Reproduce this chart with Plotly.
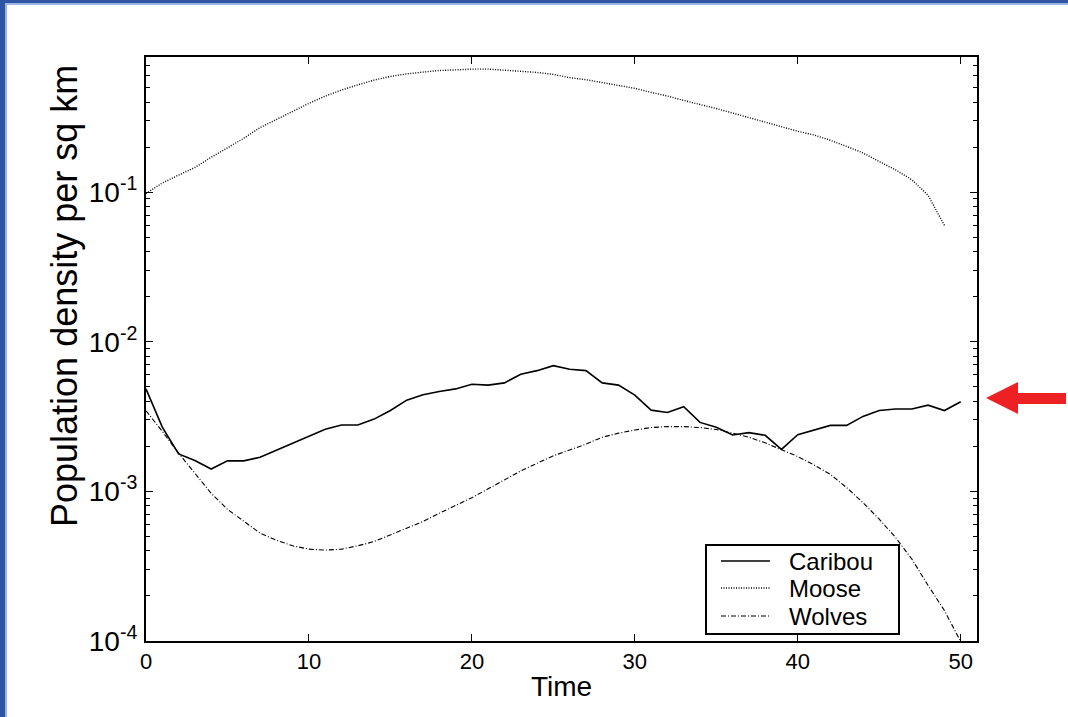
import plotly.graph_objects as go
import math

# ---- data ----
series_names = ["Caribou", "Moose", "Wolves"]

time_caribou = list(range(0, 51))
caribou = [0.00484, 0.00269, 0.00178, 0.00161, 0.00141, 0.00160, 0.00160, 0.00169, 0.00188, 0.00209,
           0.00232, 0.00260, 0.00278, 0.00278, 0.00304, 0.00347, 0.00407, 0.00442, 0.00465, 0.00484,
           0.00520, 0.00513, 0.00531, 0.00607, 0.00641, 0.00692, 0.00655, 0.00641, 0.00531, 0.00513,
           0.00440, 0.00349, 0.00337, 0.00368, 0.00289, 0.00268, 0.00238, 0.00247, 0.00237, 0.00191,
           0.00239, 0.00257, 0.00276, 0.00276, 0.00317, 0.00347, 0.00355, 0.00355, 0.00377, 0.00347,
           0.00397]

time_moose = list(range(0, 50))
moose = [0.098, 0.115, 0.130, 0.146, 0.171, 0.197, 0.229, 0.270, 0.307, 0.348,
         0.392, 0.438, 0.481, 0.521, 0.561, 0.593, 0.617, 0.634, 0.650, 0.656,
         0.664, 0.664, 0.653, 0.644, 0.631, 0.612, 0.582, 0.564, 0.541, 0.517,
         0.494, 0.464, 0.439, 0.410, 0.386, 0.362, 0.338, 0.315, 0.294, 0.275,
         0.255, 0.241, 0.222, 0.202, 0.183, 0.160, 0.141, 0.121, 0.0951, 0.060]

time_wolves = list(range(0, 51))
wolves = [0.00346, 0.00252, 0.00180, 0.00133, 0.000970, 0.000759, 0.000628, 0.000526, 0.000472, 0.000433,
          0.000411, 0.000405, 0.000411, 0.000433, 0.000462, 0.000513, 0.000565, 0.000629, 0.000714, 0.000807,
          0.000908, 0.00104, 0.00120, 0.00137, 0.00154, 0.00173, 0.00189, 0.00207, 0.00230, 0.00245,
          0.00257, 0.00267, 0.00271, 0.00271, 0.00267, 0.00259, 0.00245, 0.00230, 0.00211, 0.00191,
          0.00171, 0.00150, 0.00130, 0.00106, 0.000841, 0.000652, 0.000492, 0.000353, 0.000235, 0.000160,
          0.0000990]

x_tick_vals = [0, 10, 20, 30, 40, 50]
x_range = [0, 51]
y_tick_vals = [1e-4, 1e-3, 1e-2, 1e-1]
y_tick_text = ["10<sup>-4</sup>", "10<sup>-3</sup>", "10<sup>-2</sup>", "10<sup>-1</sup>"]
y_range_vals = [1e-4, 0.8]

FONT = "Liberation Sans, Arial, Helvetica, sans-serif"

# ---- layout geometry ----
W, H = 1068, 717
ML, MR, MT, MB = 146, 91, 57, 76
PW = W - ML - MR
PH = H - MT - MB


def px(xp):
    return (xp - ML) / PW


def py(yp):
    return (H - MB - yp) / PH


line_styles = [
    dict(color="black", width=1.6),
    dict(color="black", width=1.4, dash="1px,1.5px"),
    dict(color="black", width=1.1, dash="5px,2px,1px,2px"),
]

fig = go.Figure()
for name, xs, ys, ls in zip(series_names, [time_caribou, time_moose, time_wolves],
                            [caribou, moose, wolves], line_styles):
    fig.add_trace(go.Scatter(x=xs, y=ys, mode="lines", name=name, line=ls, showlegend=False))

shapes = []
annotations = []
# blue frame at top/left of the slide
shapes.append(dict(type="rect", xref="paper", yref="paper", x0=px(0), x1=px(W), y0=py(0), y1=py(3),
                   fillcolor="#2F55A5", line=dict(width=0), layer="above"))
shapes.append(dict(type="rect", xref="paper", yref="paper", x0=px(5), x1=px(W), y0=py(3), y1=py(5),
                   fillcolor="#9DB3E0", line=dict(width=0), layer="above"))
shapes.append(dict(type="rect", xref="paper", yref="paper", x0=px(0), x1=px(5), y0=py(0), y1=py(H),
                   fillcolor="#2F55A5", line=dict(width=0), layer="above"))
shapes.append(dict(type="rect", xref="paper", yref="paper", x0=px(5), x1=px(7), y0=py(3), y1=py(H),
                   fillcolor="#9DB3E0", line=dict(width=0), layer="above"))
# red arrow pointing at the caribou curve
pts = [(986, 398), (1018, 382), (1018, 393), (1066, 393), (1066, 404), (1018, 404), (1018, 414)]
path = "M " + " L ".join(f"{px(a):.5f},{py(b):.5f}" for a, b in pts) + " Z"
shapes.append(dict(type="path", xref="paper", yref="paper", path=path,
                   fillcolor="#ED2024", line=dict(width=0), layer="above"))

# legend box drawn by hand (to match the compact original)
shapes.append(dict(type="rect", xref="paper", yref="paper", x0=px(706), x1=px(899), y0=py(634), y1=py(545),
                   fillcolor="white", line=dict(color="black", width=2), layer="above"))
row_y = [561, 588, 616]
for name, ls, ry in zip(series_names, line_styles, row_y):
    shapes.append(dict(type="line", xref="paper", yref="paper", x0=px(721), x1=px(770), y0=py(ry), y1=py(ry),
                       line=ls, layer="above"))
    annotations.append(dict(xref="paper", yref="paper", x=px(787), y=py(ry), text=name, showarrow=False,
                            xanchor="left", yanchor="middle", font=dict(family=FONT, size=24, color="black")))

# y-axis title
annotations.append(dict(xref="paper", yref="paper", x=px(64), y=py(296), text="Population density per sq km",
                        textangle=-90, showarrow=False, xanchor="center", yanchor="middle",
                        font=dict(family=FONT, size=36, color="black")))

fig.update_layout(
    width=W, height=H, autosize=False,
    margin=dict(l=ML, r=MR, t=MT, b=MB),
    paper_bgcolor="white", plot_bgcolor="white",
    font=dict(family=FONT, color="black", size=22),
    showlegend=False,
    shapes=shapes,
    annotations=annotations,
    xaxis=dict(range=x_range, tickvals=x_tick_vals, ticks="inside", ticklen=7, tickwidth=1.3,
               tickcolor="black", showline=True, linecolor="black", linewidth=2, mirror="allticks",
               showgrid=False, zeroline=False, tickfont=dict(size=22, family=FONT),
               title=dict(text="Time", font=dict(size=28, family=FONT), standoff=3)),
    yaxis=dict(type="log", range=[math.log10(v) for v in y_range_vals],
               tickmode="array", tickvals=y_tick_vals, ticktext=y_tick_text,
               ticks="inside", ticklen=7, tickwidth=1.3, tickcolor="black",
               minor=dict(ticks="inside", ticklen=4, tickwidth=1, tickcolor="black", dtick="D1", showgrid=False),
               showline=True, linecolor="black", linewidth=2, mirror="allticks",
               showgrid=False, zeroline=False, tickfont=dict(size=28, family=FONT),
               ticklabelstandoff=1),
)

fig.write_html("out.html")
